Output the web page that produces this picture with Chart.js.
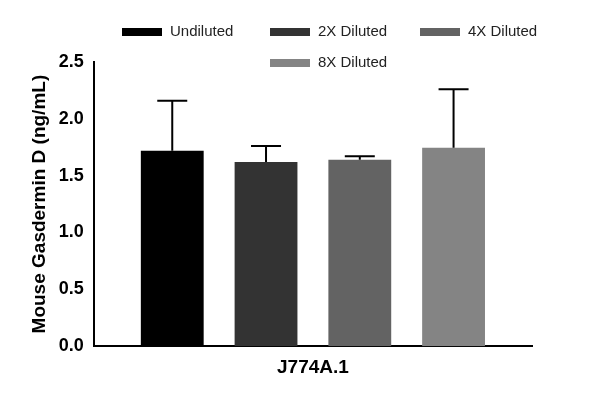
<!DOCTYPE html><html><head><script src="https://cdn.jsdelivr.net/npm/chart.js"></script>
<style>body{margin:0;background:#fff}#w{width:600px;height:405px}</style></head><body><div id="w"><canvas id="c"></canvas></div>
<script>
const categories=["J774A.1"];
const seriesNames=["Undiluted","2X Diluted","4X Diluted","8X Diluted"];
const means=[1.72,1.62,1.64,1.745];
const errors=[0.44,0.14,0.03,0.515];
const colors=["#000000","#333333","#636363","#848484"];
const yTicks=[0,0.5,1.0,1.5,2.0,2.5];
const font='Liberation Sans, Arial, sans-serif';
const errPlugin={id:'err',afterDatasetsDraw(ch){const c=ch.ctx,y=ch.scales.y;c.save();c.strokeStyle='#000';c.lineWidth=2;
ch.data.datasets.forEach((d,i)=>{const m=ch.getDatasetMeta(i).data[0];const x=m.x,top=y.getPixelForValue(means[i]+errors[i]),b=y.getPixelForValue(means[i]);
c.beginPath();c.moveTo(x,b);c.lineTo(x,top);c.moveTo(x-15,top);c.lineTo(x+15,top);c.stroke();});c.restore();}};
const legPlugin={id:'leg',afterDraw(ch){const c=ch.ctx;c.save();c.font='15px '+font;c.textBaseline='middle';
const pos=[[122,32],[270,32],[420,32],[270,63]];
seriesNames.forEach((n,i)=>{const [x,y]=pos[i];c.fillStyle=colors[i];c.fillRect(x,y-4,40,8);c.fillStyle='#222';c.fillText(n,x+48,y);});c.restore();}};
new Chart(document.getElementById('c'),{type:'bar',
data:{labels:categories,datasets:seriesNames.map((n,i)=>({label:n,data:[means[i]],backgroundColor:colors[i],categoryPercentage:0.856,barPercentage:0.67}))},
options:{responsive:true,maintainAspectRatio:false,animation:false,layout:{padding:{top:62,right:68,left:24,bottom:22}},
plugins:{legend:{display:false},tooltip:{enabled:false}},
scales:{x:{grid:{display:false,drawTicks:false},border:{color:'#000',width:2},ticks:{display:false},
title:{display:true,text:'J774A.1',color:'#000',font:{family:font,size:19,weight:'bold'},padding:{top:10}}},
y:{min:0,max:2.5,afterBuildTicks(a){a.ticks=yTicks.map(v=>({value:v}));},grid:{display:false,drawTicks:true,tickLength:6,tickWidth:2,tickColor:'#000'},border:{color:'#000',width:2},
ticks:{color:'#000',font:{family:font,size:18,weight:'bold'},callback:v=>v.toFixed(1),padding:4},
title:{display:true,text:'Mouse Gasdermin D (ng/mL)',color:'#000',font:{family:font,size:19,weight:'bold'}}}}},
plugins:[errPlugin,legPlugin]});
</script></body></html>
